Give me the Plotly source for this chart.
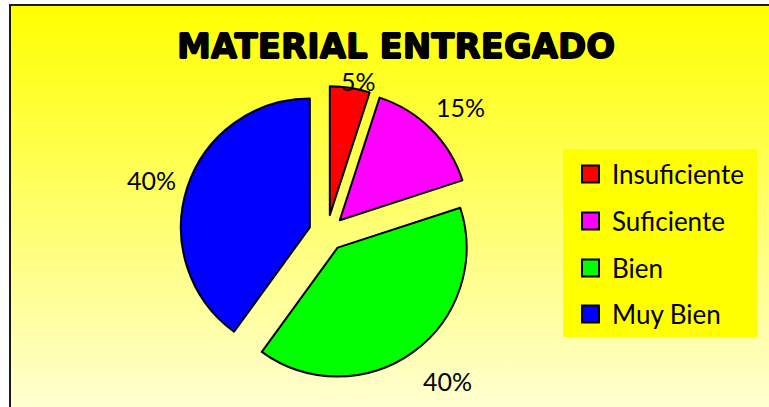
import plotly.graph_objects as go

# ---- data ----
labels = ["Insuficiente", "Suficiente", "Bien", "Muy Bien"]
values = [5, 15, 40, 40]
colors = ["#FF0000", "#FF00FF", "#00FF00", "#0000FF"]
title_text = "MATERIAL ENTREGADO"

W, H = 769, 407

def px(x):
    return x / W

def py(y):
    return 1 - y / H

total = sum(values)
pct_text = [f"{round(v / total * 100)}%" for v in values]

fig = go.Figure()

fig.add_trace(go.Pie(
    labels=labels,
    values=values,
    sort=False,
    direction="clockwise",
    rotation=0,
    pull=[0.14] * len(values),
    marker=dict(colors=colors, line=dict(color="black", width=2)),
    textinfo="none",
    showlegend=False,
    domain=dict(x=[px(180), px(474)], y=[py(380), py(86)]),
    hoverinfo="label+percent",
))

svg = (
    "data:image/svg+xml;utf8,"
    "<svg xmlns='http://www.w3.org/2000/svg' width='769' height='407' preserveAspectRatio='none'>"
    "<defs><linearGradient id='g' x1='0' y1='0' x2='0' y2='1'>"
    "<stop offset='0' stop-color='%23FFFF00'/>"
    "<stop offset='1' stop-color='%23FFFFD2'/>"
    "</linearGradient></defs>"
    "<rect width='769' height='407' fill='url(%23g)'/></svg>"
)

shapes = [
    # white strip outside the chart area
    dict(type="rect", xref="paper", yref="paper",
         x0=0, x1=1, y0=py(5), y1=1,
         line=dict(width=0), fillcolor="white", layer="below"),
    dict(type="rect", xref="paper", yref="paper",
         x0=0, x1=px(10), y0=0, y1=1,
         line=dict(width=0), fillcolor="white", layer="below"),
    # chart border
    dict(type="rect", xref="paper", yref="paper",
         x0=px(10), x1=px(780), y0=py(420), y1=py(5),
         line=dict(color="#1a1a1a", width=2), fillcolor="rgba(0,0,0,0)", layer="above"),
    # legend box
    dict(type="rect", xref="paper", yref="paper",
         x0=px(563), x1=px(757), y0=py(337), y1=py(149),
         line=dict(width=0), fillcolor="#FFFF00", layer="below"),
]

heavy = "0.7px 0 0 black, -0.7px 0 0 black, 0 0.7px 0 black, 0 -0.7px 0 black"
annotations = [
    dict(text="<b>" + title_text + "</b>", x=px(396), y=py(46), xref="paper", yref="paper",
         showarrow=False, xanchor="center", yanchor="middle",
         font=dict(family="DejaVu Sans", size=34, color="black", shadow=heavy)),
]

# percentage label placement (layout positions, in pixels)
label_pos = [(358, 81), (460, 107), (447, 381), (151, 180)]
for t, (lx, ly) in zip(pct_text, label_pos):
    annotations.append(dict(text=t, x=px(lx), y=py(ly), xref="paper", yref="paper",
                            showarrow=False, xanchor="center", yanchor="middle",
                            font=dict(family="Lato", size=25, color="black")))

legend_y = [174, 221, 268, 314]
for lab, col, yy in zip(labels, colors, legend_y):
    shapes.append(dict(type="rect", xref="paper", yref="paper",
                       x0=px(582), x1=px(599), y0=py(yy + 8.5), y1=py(yy - 8.5),
                       line=dict(color="black", width=2), fillcolor=col, layer="above"))
    annotations.append(dict(text=lab, x=px(610), y=py(yy), xref="paper", yref="paper",
                            showarrow=False, xanchor="left", yanchor="middle",
                            font=dict(family="Lato", size=26, color="black")))

fig.update_layout(
    width=W, height=H,
    margin=dict(l=0, r=0, t=0, b=0),
    paper_bgcolor="rgba(0,0,0,0)",
    plot_bgcolor="rgba(0,0,0,0)",
    images=[dict(source=svg, xref="paper", yref="paper", x=px(10), y=py(5),
                 sizex=1 - px(10), sizey=py(5), xanchor="left", yanchor="top",
                 sizing="stretch", layer="below")],
    shapes=shapes,
    annotations=annotations,
)

fig.write_html("out.html", config={"displayModeBar": False},
               post_script="document.body.style.margin='0';")
